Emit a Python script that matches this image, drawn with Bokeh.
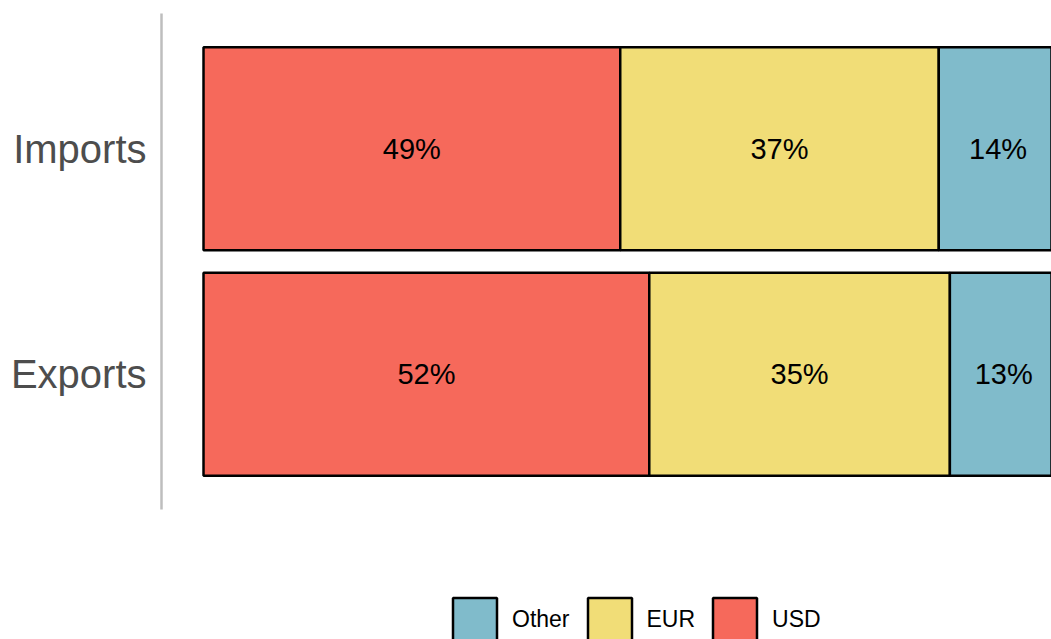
from bokeh.plotting import figure
from bokeh.models import ColumnDataSource, FactorRange, Range1d, Legend, LegendItem, LabelSet
from bokeh.core.properties import value
from bokeh.layouts import column
from bokeh.embed import file_html
from bokeh.resources import INLINE

categories = ["Exports", "Imports"]
currencies = ["USD", "EUR", "Other"]
usd = [52.2, 48.8]
eur = [35.2, 37.3]
other = [12.6, 13.9]
legend_order = ["Other", "EUR", "USD"]
colors = {"USD": "#F6695B", "EUR": "#F1DD77", "Other": "#80BBCB"}

p = figure(
    width=1051, height=560,
    y_range=FactorRange(factors=categories, range_padding=0.1, range_padding_units="absolute"),
    x_range=Range1d(-4.92, 99.3),
    output_backend="svg", toolbar_location=None,
    x_axis_location=None,
    min_border_left=161, min_border_right=0, min_border_top=13, min_border_bottom=51,
)
p.outline_line_color = None
p.grid.visible = False

src = ColumnDataSource(dict(cat=categories, USD=usd, EUR=eur, Other=other))
renderers = p.hbar_stack(currencies, y="cat", height=0.9, source=src,
                         color=[colors[c] for c in currencies],
                         line_color="black", line_width=2.5)

# percentage labels at segment centres
lx, ly, lt = [], [], []
for i, c in enumerate(categories):
    left = 0.0
    for vals in (usd, eur, other):
        v = vals[i]
        lx.append(left + v / 2)
        ly.append(c)
        lt.append(f"{round(v)}%")
        left += v
lsrc = ColumnDataSource(dict(x=lx, y=ly, t=lt))
labels = LabelSet(x="x", y="y", text="t", source=lsrc, text_align="center",
                  text_baseline="middle", text_font=value("Liberation Sans"),
                  text_font_size="29px", text_color="black")
p.add_layout(labels)

ax = p.yaxis[0]
ax.axis_line_color = "#BEBEBE"
ax.axis_line_width = 2.5
ax.major_tick_line_color = None
ax.minor_tick_line_color = None
ax.major_label_text_font = "Liberation Sans"
ax.major_label_text_font_size = "40px"
ax.major_label_text_color = "#4D4D4D"
ax.major_label_standoff = 9

# legend strip (frame is aligned with the main plot's frame by the column layout)
lg = figure(width=1051, height=79, output_backend="svg", toolbar_location=None,
            x_axis_location=None, y_axis_location=None,
            x_range=Range1d(0, 1), y_range=Range1d(0, 1),
            min_border_left=0, min_border_right=0, min_border_top=0, min_border_bottom=0)
lg.outline_line_color = None
lg.grid.visible = False
nan = float("nan")
items = []
for c in legend_order:
    key_src = ColumnDataSource(dict(x=[nan], y=[nan]))
    r = lg.rect(x="x", y="y", width=1, height=1, source=key_src,
                fill_color=colors[c], line_color="black", line_width=2.5)
    items.append(LegendItem(label=c, renderers=[r]))
legend = Legend(items=items, orientation="horizontal", location=(286, -8),
                glyph_width=55, glyph_height=55, label_standoff=10, spacing=12,
                padding=0, margin=0, border_line_color=None, background_fill_alpha=0,
                label_text_font="Liberation Sans", label_text_font_size="23px",
                label_text_color="black")
lg.add_layout(legend, "center")

layout = column(p, lg, spacing=0)
open("out.html", "w").write(file_html(layout, INLINE))
